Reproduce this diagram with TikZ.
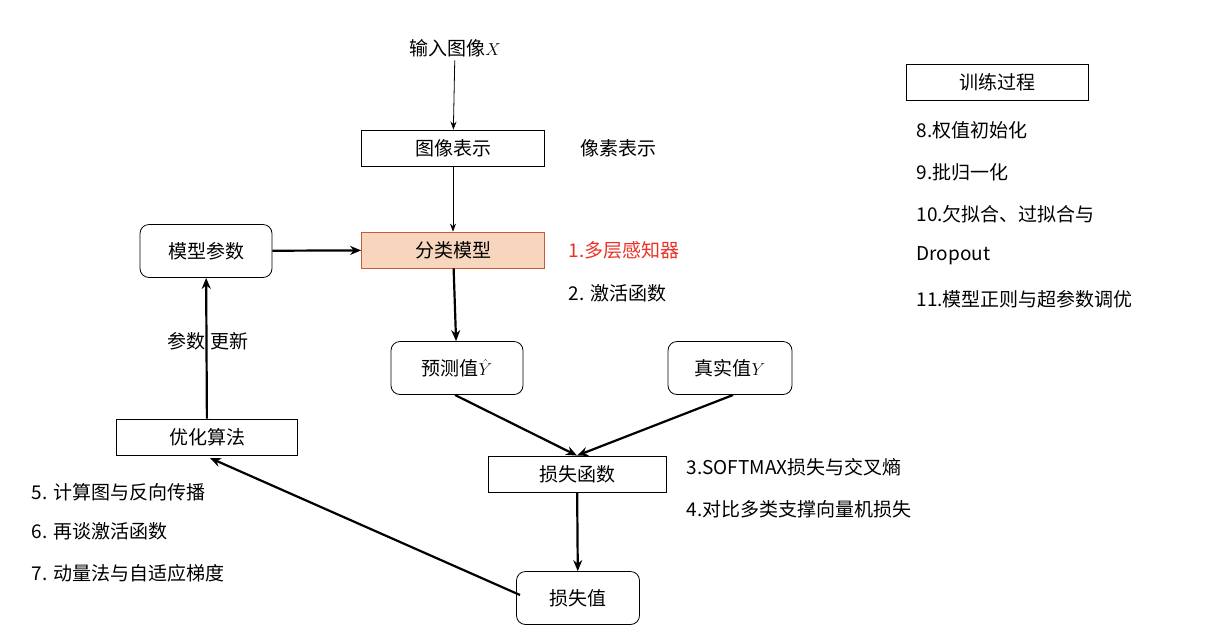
\documentclass[tikz,border=0pt]{standalone}
\usepackage{fontspec}
\setmainfont{Noto Sans CJK SC}
\usetikzlibrary{arrows.meta}
\begin{document}
\begin{tikzpicture}[x=1pt,y=-1pt,
  box/.style={draw,thick,minimum height=36pt,font=\fontsize{19}{22}\selectfont},
  rbox/.style={draw,thick,rounded corners=9pt,minimum height=53pt,font=\fontsize{19}{22}\selectfont},
  lbl/.style={font=\fontsize{19}{22}\selectfont},
  tarr/.style={-{Stealth[length=8pt]},thick},
  karr/.style={-{Stealth[length=11pt,width=9pt]},line width=2.2pt}]
\useasboundingbox (0,0) rectangle (1216,625);
\node[lbl] (in) at (455,48) {输入图像$X$};
\node[box,minimum width=183pt] (rep) at (453,148) {图像表示};
\node[lbl] at (618,148) {像素表示};
\node[box,minimum width=183pt,fill={rgb,255:red,248;green,214;blue,190},draw={rgb,255:red,200;green,90;blue,60}] (cls) at (453,250) {分类模型};
\node[lbl,text={rgb,255:red,235;green,50;blue,40},anchor=west] at (565,250) {1.多层感知器};
\node[lbl,anchor=west] at (565,293) {2. 激活函数};
\node[rbox,minimum width=132pt] (par) at (206,251) {模型参数};
\node[lbl] at (208,341) {参数 更新};
\node[box,minimum width=181pt] (opt) at (207,437) {优化算法};
\node[lbl,anchor=west] at (28,492) {5. 计算图与反向传播};
\node[lbl,anchor=west] at (28,531) {6. 再谈激活函数};
\node[lbl,anchor=west] at (28,573) {7. 动量法与自适应梯度};
\node[rbox,minimum width=132pt] (pred) at (457,368) {预测值$\hat{Y}$};
\node[rbox,minimum width=124pt] (true) at (730,368) {真实值$Y$};
\node[box,minimum width=178pt] (loss) at (577,474) {损失函数};
\node[lbl,anchor=west] at (683,467) {3.SOFTMAX损失与交叉熵};
\node[lbl,anchor=west] at (683,509) {4.对比多类支撑向量机损失};
\node[rbox,minimum width=123pt] (lv) at (578,598) {损失值};
\node[box,minimum width=182pt] (tr) at (997,82) {训练过程};
\node[lbl,anchor=west] at (913,130) {8.权值初始化};
\node[lbl,anchor=west] at (913,172) {9.批归一化};
\node[lbl,anchor=west] at (913,214) {10.欠拟合、过拟合与};
\node[lbl,anchor=west] at (913,256) {Dropout};
\node[lbl,anchor=west] at (913,299) {11.模型正则与超参数调优};
\coordinate (p1) at (455,395);
\coordinate (t1) at (733,395);
\coordinate (l1) at (520,595);
\coordinate (o1) at (210,458);
\draw[tarr] (in) -- (rep);
\draw[tarr] (rep) -- (cls);
\draw[karr] (par) -- (cls);
\draw[karr] (cls) -- (pred);
\draw[karr] (p1) -- (loss.north);
\draw[karr] (t1) -- (loss.north);
\draw[karr] (loss) -- (lv);
\draw[karr] (l1) -- (o1);
\draw[karr] (opt) -- (par);
\end{tikzpicture}
\end{document}
